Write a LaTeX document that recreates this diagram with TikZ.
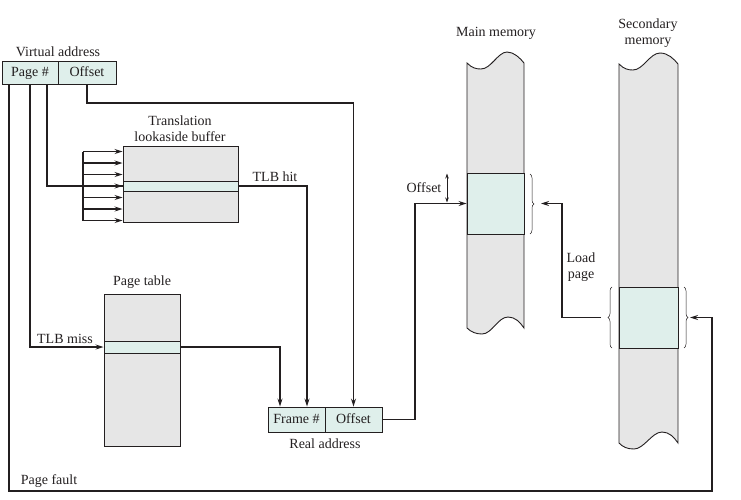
\documentclass[tikz,border=0pt]{standalone}
\usepackage{fontspec}
\setmainfont{Liberation Serif}
\usetikzlibrary{arrows.meta,decorations.pathreplacing}
\definecolor{cellgray}{HTML}{E6E6E6}
\definecolor{celltint}{HTML}{DFEFEB}
\definecolor{ink}{HTML}{231F20}
\tikzset{
  txt/.style={font=\fontsize{14}{16}\selectfont, text=ink, text height=9.5pt, text depth=2.5pt},
  cell/.style={txt, draw=ink, line width=0.9pt, fill=celltint, inner sep=0pt, minimum height=23pt},
  tbl/.style={draw=ink, line width=0.9pt, fill=cellgray, inner sep=0pt},
  slot/.style={draw=ink, line width=0.9pt, fill=celltint, inner sep=0pt},
  lbl/.style={txt, inner sep=0pt},
  link/.style={draw=ink, line width=1.3pt},
  arr/.style={link, -{Stealth[length=8pt,width=5pt]}},
  brc/.style={draw=ink, line width=0.5pt, decorate, decoration={brace, amplitude=4pt}},
  col/.style={draw=ink, line width=0.9pt, fill=cellgray}
}
\begin{document}
\begin{tikzpicture}[x=1pt, y=-1pt]
\useasboundingbox (0,0) rectangle (741,499);

% virtual address
\node[lbl] (vaddr) at (58,52.5) {Virtual address};
\node[cell, minimum width=56pt] (vpage) at (30,72.5) {Page \#};
\node[cell, minimum width=58pt] (voff) at (87,72.5) {Offset};

% translation lookaside buffer
\node[lbl] (tlbname1) at (180,122) {Translation};
\node[lbl] (tlbname2) at (180,138) {lookaside buffer};
\node[tbl, minimum width=115pt, minimum height=76pt] (tlb) at (180.5,184) {};
\node[slot, minimum width=115pt, minimum height=10pt] (tlbrow) at (180.5,186) {};
\node[lbl] (tlbhit) at (275,178) {TLB hit};

% page table
\node[lbl] (ptname) at (142,282) {Page table};
\node[tbl, minimum width=76pt, minimum height=152pt] (pt) at (142,370) {};
\node[slot, minimum width=76pt, minimum height=12pt] (ptrow) at (142,347) {};
\node[lbl] (tlbmiss) at (65,340) {TLB miss};

% real address
\node[cell, minimum width=57pt, minimum height=25pt] (rframe) at (296.5,419.5) {Frame \#};
\node[cell, minimum width=57pt, minimum height=25pt] (roff) at (353.5,419.5) {Offset};
\node[lbl] (raddr) at (325,444.5) {Real address};
\node[lbl] (pfault) at (49,481) {Page fault};

% main memory column
\node[lbl] (mmname) at (496,33) {Main memory};
\path[col] (467,63) .. controls (472,68) and (476,69) .. (481,69)
  .. controls (491,69) and (498,52) .. (507,52)
  .. controls (514,52) and (520,58) .. (524,63) -- (524,328)
  .. controls (520,322) and (515,317) .. (508,317)
  .. controls (498,317) and (492,334) .. (482,334)
  .. controls (476,334) and (471,332) .. (467,328) -- cycle;
\node[slot, minimum width=57pt, minimum height=61pt] (mmrow) at (495.5,203.5) {};
\node[lbl] (offlbl) at (424,189) {Offset};
\draw[draw=ink, line width=0.9pt, {Stealth[length=5pt,width=3.5pt]}-{Stealth[length=5pt,width=3.5pt]}] (447,173.5) -- (447,202.5);
\draw[brc] (530,174) -- (530,234);
\coordinate (mmin) at (541,203.5);

% secondary memory column
\node[lbl] (smname1) at (648,24.5) {Secondary};
\node[lbl] (smname2) at (648,41) {memory};
\path[col] (619,64) .. controls (624,69) and (628,70) .. (633,70)
  .. controls (643,70) and (650,53) .. (660,53)
  .. controls (668,53) and (674,59) .. (678,64) -- (678,443)
  .. controls (674,437) and (669,432) .. (662,432)
  .. controls (652,432) and (644,449) .. (634,449)
  .. controls (627,449) and (623,447) .. (619,443) -- cycle;
\node[slot, minimum width=59pt, minimum height=61pt] (smrow) at (648.5,317.5) {};
\draw[brc] (612,348) -- (612,287);
\draw[brc] (684,287) -- (684,348);
\coordinate (smout) at (601,317.5);
\coordinate (smin) at (690,317.5);
\node[lbl] (loadlbl1) at (581,258.5) {Load};
\node[lbl] (loadlbl2) at (581,275) {page};

% connectors
\draw[arr] (voff.south) |- (roff.north |- 0,103) -- (roff.north);
\draw[link] (vpage.south -| 47,0) |- (tlbrow.west);
\draw[link] (83,151.5) -- (83,220.5);
\foreach \k in {-3,...,3}
  \draw[arr] (83,{186+11.5*\k}) -- (tlb.west |- 0,{186+11.5*\k});
\draw[arr] (vpage.south -| 30,0) |- (ptrow.west);
\draw[arr] (vpage.south -| 9,0) |- (712,491) |- (smin);
\draw[arr] (tlbrow.east) -| (rframe.north -| 307,0);
\draw[arr] (ptrow.east) -| (rframe.north -| 280,0);
\draw[arr] (roff.east) -| (415,203.5) -- (mmrow.west);
\draw[arr] (smout) -| (562,203.5) -- (mmin);
\end{tikzpicture}
\end{document}
